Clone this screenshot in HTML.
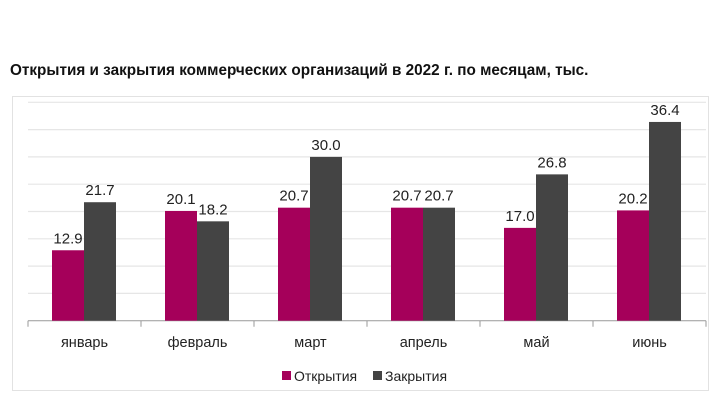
<!DOCTYPE html>
<html><head><meta charset="utf-8"><style>
body{margin:0;background:#fff;width:720px;height:400px;overflow:hidden;font-family:"Liberation Sans",sans-serif}
</style></head><body>
<svg width="720" height="400" xmlns="http://www.w3.org/2000/svg">
<text x="10" y="75" font-size="15.3" font-weight="bold" fill="#111">Открытия и закрытия коммерческих организаций в 2022 г. по месяцам, тыс.</text>
<rect x="12.5" y="96.5" width="696" height="294" fill="#fff" stroke="#e2e2e2"/>
<g id="grid"></g><g id="bars"></g><g id="labels"></g>
<g>
<rect x="282" y="371" width="9" height="9" fill="#a5005a"/>
<text x="294" y="381" font-size="14" fill="#222">Открытия</text>
<rect x="373" y="371" width="9" height="9" fill="#444"/>
<text x="385" y="381" font-size="14" fill="#222">Закрытия</text>
</g>
</svg>
<script>
const categories=["январь","февраль","март","апрель","май","июнь"];
const openings=[12.9,20.1,20.7,20.7,17.0,20.2];
const closings=[21.7,18.2,30.0,20.7,26.8,36.4];
const gridValues=[5,10,15,20,25,30,35,40];
const NS="http://www.w3.org/2000/svg";
const x0=28,cw=113,y0=320.7,ppu=218.4/40,bw=32;
const y=v=>y0-v*ppu;
function mk(t,a,p){const e=document.createElementNS(NS,t);for(const k in a)e.setAttribute(k,a[k]);p.appendChild(e);return e;}
const g=document.getElementById('grid'),b=document.getElementById('bars'),l=document.getElementById('labels');
gridValues.forEach(v=>{const ln=mk('line',{x1:x0,x2:x0+cw*6,y1:y(v),y2:y(v),stroke:'#e6e6e6','stroke-width':1.2},g);

});
const ax=mk('line',{x1:x0,x2:x0+cw*6,y1:y0,y2:y0,stroke:'#999','stroke-width':1},g);


for(let i=0;i<=6;i++){const t=mk('line',{x1:x0+i*cw,x2:x0+i*cw,y1:y0,y2:y0+6,stroke:'#999'},g);

}
categories.forEach((c,i)=>{
const gx=x0+i*cw+24;
[[openings[i],'#a5005a','open'],[closings[i],'#444','close']].forEach(([v,col,n],j)=>{
const r=mk('rect',{x:gx+j*bw,y:y(v),width:bw,height:v*ppu,fill:col},b);


const t=mk('text',{x:gx+j*bw+bw/2,y:y(v)-7,'font-size':15,'text-anchor':'middle',fill:'#222'},l);
t.textContent=v.toFixed(1);

});
const ct=mk('text',{x:x0+i*cw+cw/2,y:347,'font-size':14.5,'text-anchor':'middle',fill:'#222'},l);
ct.textContent=c;


});
</script>
</body></html>
